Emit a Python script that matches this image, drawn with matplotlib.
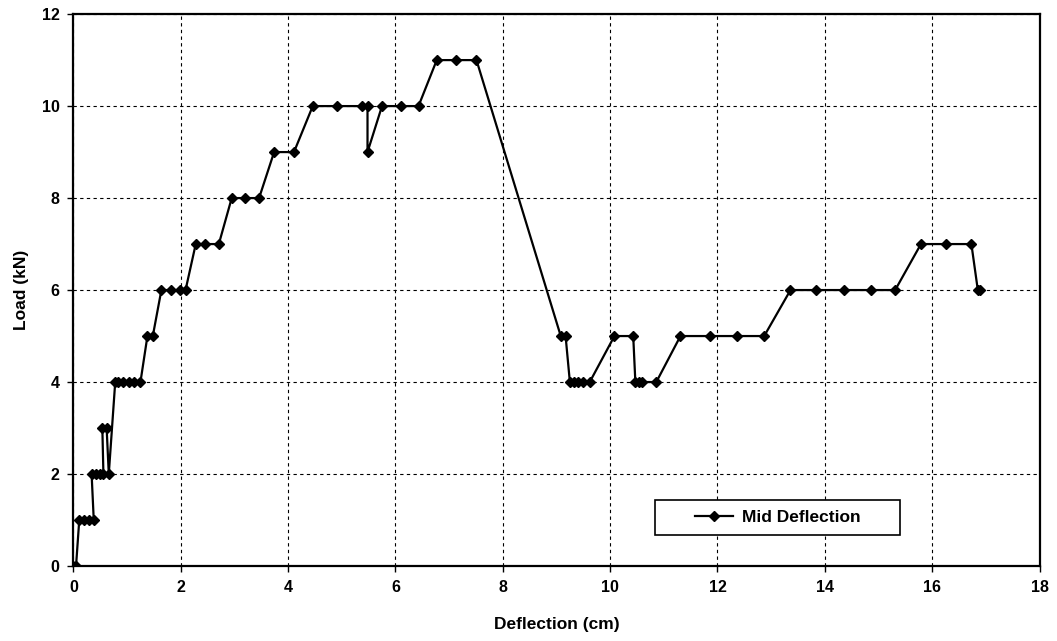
import matplotlib.pyplot as plt
from matplotlib.patches import Rectangle

plt.rcParams['font.family'] = ['Liberation Sans', 'DejaVu Sans']

# mid-span deflection (cm) and applied load (kN)
deflection = [0.00, 0.05, 0.11, 0.20, 0.30, 0.38, 0.34, 0.42, 0.50, 0.56,
              0.54, 0.62, 0.66, 0.78, 0.83, 0.93, 1.03, 1.13, 1.25,
              1.38, 1.48, 1.64, 1.81, 1.99, 2.09,
              2.28, 2.45, 2.71, 2.95, 3.20, 3.46, 3.74, 4.11,
              4.46, 4.92, 5.37, 5.48, 5.48, 5.75, 6.10, 6.43,
              6.77, 7.12, 7.51, 9.08, 9.17,
              9.25, 9.33, 9.41, 9.49, 9.62, 10.08, 10.43,
              10.47, 10.53, 10.59, 10.86,
              11.31, 11.86, 12.37, 12.87,
              13.36, 13.84, 14.35, 14.86, 15.31,
              15.79, 16.25, 16.73, 16.85, 16.89]
load = [0, 0, 1, 1, 1, 1, 2, 2, 2, 2,
        3, 3, 2, 4, 4, 4, 4, 4, 4,
        5, 5, 6, 6, 6, 6,
        7, 7, 7, 8, 8, 8, 9, 9,
        10, 10, 10, 10, 9, 10, 10, 10,
        11, 11, 11, 5, 5,
        4, 4, 4, 4, 4, 5, 5,
        4, 4, 4, 4,
        5, 5, 5, 5,
        6, 6, 6, 6, 6,
        7, 7, 7, 6, 6]

fig = plt.figure(figsize=(10.57, 6.41), dpi=100)
ax = fig.add_axes([0.0694, 0.117, 0.9141, 0.861])

ax.plot(deflection, load, color='black', linewidth=1.6, marker='D',
        markersize=5, label='Mid Deflection')

ax.set_xlim(0, 18)
ax.set_ylim(0, 12)
ax.set_xticks(range(0, 19, 2))
ax.set_yticks(range(0, 13, 2))
ax.grid(True, color='black', linestyle=(0, (3, 3)), linewidth=0.8)
ax.set_axisbelow(True)

for side in ['left', 'bottom', 'top', 'right']:
    ax.spines[side].set_linewidth(1.6)
ax.tick_params(direction='out', length=4, width=1, labelsize=11.5, pad=6)
for lbl in ax.get_xticklabels() + ax.get_yticklabels():
    lbl.set_fontweight('bold')

ax.set_xlabel('Deflection (cm)', fontsize=12.5, fontweight='bold', labelpad=16)
ax.set_ylabel('Load (kN)', fontsize=12.5, fontweight='bold', labelpad=9)

# wide legend box with the entry centred inside it
box = Rectangle((0.602, 0.056), 0.254, 0.064, transform=ax.transAxes,
                facecolor='white', edgecolor='black', linewidth=1.2, zorder=4)
ax.add_patch(box)
leg = ax.legend(loc='center', bbox_to_anchor=(0.729, 0.088), frameon=False,
                fontsize=12.5, handlelength=2.2, handletextpad=0.5)
leg.set_zorder(5)
for txt in leg.get_texts():
    txt.set_fontweight('bold')

fig.savefig('out.png', dpi=100)
